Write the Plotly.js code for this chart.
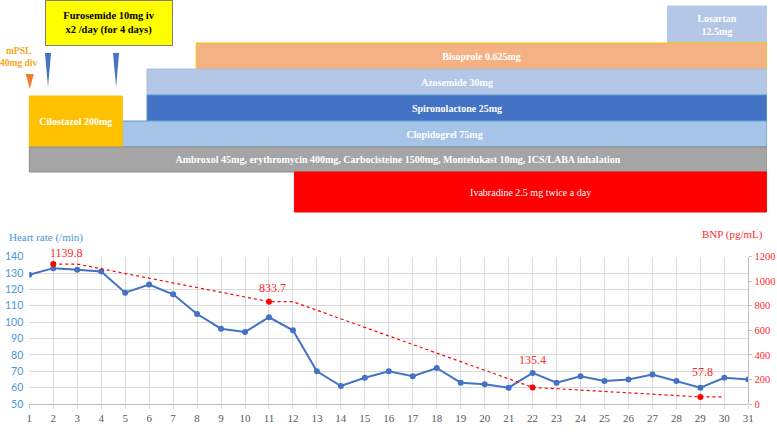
<!DOCTYPE html>
<html>
<head>
<meta charset="utf-8">
<script src="https://cdn.plot.ly/plotly-3.0.1.min.js"></script>
<style>
  body { margin: 0; background: #fff; }
  #graph { width: 777px; height: 436px; }
</style>
</head>
<body>
<div id="graph"></div>
<script>
// hospital stay (day) for heart rate
const days = [1, 2, 3, 4, 5, 6, 7, 8, 9, 10, 11, 12, 13, 14, 15, 16, 17, 18, 19, 20, 21, 22, 23, 24, 25, 26, 27, 28, 29, 30, 31]
const heartRate = [129, 133, 132, 131, 118, 123, 117, 105, 96, 94, 103, 95, 70, 61, 66, 70, 67, 72, 63, 62, 60, 69, 63, 67, 64, 65, 68, 64, 60, 66, 65]

// BNP measured points
const bnpDays = [2, 11, 22, 29]
const bnpValues = [1139.8, 833.7, 135.4, 57.8]
// dotted BNP line as drawn
const bnpLineDays = [2, 3, 11, 12, 22, 29, 30]
const bnpLineValues = [1139.8, 1139.8, 833.7, 833.7, 135.4, 57.8, 57.8]

// medications timeline
const drugs = ['Losartan<br>12.5mg', 'Bisoprole 0.625mg', 'Azosemide 30mg', 'Spironolactone 25mg', 'Clopidogrel 75mg',
    'Cilostazol 200mg', 'Ambroxol 45mg, erythromycin 400mg, Carbocisteine 1500mg, Montelukast 10mg, ICS/LABA inhalation',
    'Ivabradine 2.5 mg twice a day']
const startDay = [27.62, 7.96, 5.91, 5.91, 4.88, 1, 1, 12.06]
const endDay = [31.77, 31.77, 31.77, 31.77, 31.77, 4.88, 31.77, 31.77]
const furosemideDays = [1.78, 4.62]
const furosemideBoxDay = 4.33
const mpslDay = 1.02

// lane layout (pixel rows from the top of the figure)
const laneTop = [6, 43, 69, 95, 121, 96, 147, 172]
const laneBottom = [43, 69, 95, 121, 147, 147, 172, 212]
const drugColors = ['#B4C7E7', '#F4B183', '#B4C7E7', '#4472C4', '#A6C4E8', '#FFC000', '#A5A5A5', '#FF0000']
const drugLines = ['#B4C7E7', '#FFC000', '#A9BFE3', '#5B9BD5', '#5B9BD5', '#FFC000', '#8C8C8C', '#FF0000']
const drugBold = [true, true, true, true, true, true, true, false]

const serif = 'Liberation Serif'
const blue = '#4A96DA'
const red = '#FF2A2A'
const pxPerDay = 23.97
const left = 20
const plotW = 777 - left - 10
const xStart = (29.3 - left) / plotW
const xEnd = (748.3 - left) / plotW

const timeline = {
    type: 'bar',
    orientation: 'h',
    xaxis: 'x2',
    yaxis: 'y3',
    y: laneTop.map((t, i) => (t + laneBottom[i]) / 2),
    width: laneTop.map((t, i) => laneBottom[i] - t),
    base: startDay,
    x: startDay.map((s, i) => endDay[i] - s),
    text: drugs.map((d, i) => drugBold[i] ? '<b>' + d + '</b>' : d),
    textposition: 'inside',
    insidetextanchor: 'middle',
    constraintext: 'none',
    textangle: 0,
    textfont: { family: serif, size: 10, color: '#FFFFFF' },
    marker: { color: drugColors, line: { color: drugLines, width: 1 } },
    hoverinfo: 'skip',
    showlegend: false
}

const hr = {
    x: days,
    y: heartRate,
    mode: 'lines+markers',
    type: 'scatter',
    line: { color: '#4472C4', width: 2 },
    marker: { color: '#4472C4', size: 6 },
    showlegend: false
}

const bnpLine = {
    x: bnpLineDays,
    y: bnpLineValues,
    yaxis: 'y2',
    mode: 'lines',
    type: 'scatter',
    line: { color: '#FF0000', width: 1.2, dash: 'dot' },
    showlegend: false
}

const bnpPoints = {
    x: bnpDays,
    y: bnpValues,
    yaxis: 'y2',
    mode: 'markers',
    type: 'scatter',
    marker: { color: '#FF0000', size: 6 },
    showlegend: false
}

const labelShiftX = [13, 4, 0, 2]
const labelShiftY = [11, 14, 27, 25]
const annotations = bnpDays.map((d, i) => ({
    x: d, y: bnpValues[i], xref: 'x', yref: 'y2',
    text: bnpValues[i].toFixed(1), showarrow: false,
    xshift: labelShiftX[i], yshift: labelShiftY[i],
    font: { family: serif, size: 12, color: red }
}))

annotations.push(
    { xref: 'paper', x: xStart, xanchor: 'left', xshift: -22, yref: 'y3', y: 237, text: 'Heart rate (/min)',
      showarrow: false, font: { family: serif, size: 11, color: blue } },
    { xref: 'paper', x: 1, xanchor: 'right', xshift: -2, yref: 'y3', y: 234, text: 'BNP (pg/mL)',
      showarrow: false, font: { family: serif, size: 11, color: red } },
    { xref: 'paper', x: (378 - left) / plotW, yref: 'y3', y: 430, text: 'Hospital stay (day)',
      showarrow: false, font: { family: serif, size: 12, color: '#000000' } },
    { xref: 'x2', x: furosemideBoxDay, yref: 'y3', y: 23,
      text: '<b>Furosemide 10mg iv<br>x2 /day (for 4 days)</b>', showarrow: false,
      bgcolor: '#FFFF00', bordercolor: '#7F7F7F', borderwidth: 1, borderpad: 0,
      width: 126, height: 44, align: 'center',
      font: { family: serif, size: 10.5, color: '#000000' } },
    { xref: 'paper', x: 0, xanchor: 'center', xshift: -2, yref: 'y3', y: 57, text: '<b>mPSL<br>40mg div</b>',
      showarrow: false, font: { family: serif, size: 9.5, color: '#F5A623' } }
)

const triW = 3 / pxPerDay
const shapes = furosemideDays.map(d => ({
    type: 'path', xref: 'x2', yref: 'y3',
    path: `M ${d - triW},53 L ${d + triW},53 L ${d},87 Z`,
    fillcolor: '#4472C4', line: { width: 0 }
}))
shapes.push({
    type: 'path', xref: 'x2', yref: 'y3',
    path: `M ${mpslDay - 4 / pxPerDay},74 L ${mpslDay + 4 / pxPerDay},74 L ${mpslDay},89 Z`,
    fillcolor: '#ED7D31', line: { width: 0 }
})

const layout = {
    width: 777,
    height: 436,
    margin: { l: left, r: 10, t: 0, b: 32 },
    paper_bgcolor: '#FFFFFF',
    plot_bgcolor: 'rgba(0,0,0,0)',
    font: { family: serif },
    xaxis: {
        domain: [xStart, xEnd],
        range: [1, 31],
        dtick: 1,
        showgrid: true,
        gridcolor: '#D9D9D9',
        showline: true,
        linecolor: '#BFBFBF',
        ticks: 'outside',
        ticklen: 4,
        tickcolor: '#D9D9D9',
        zeroline: false,
        tickfont: { family: serif, size: 11, color: '#595959' },
        anchor: 'y'
    },
    yaxis: {
        domain: [0, 147.3 / 404],
        range: [50, 140],
        dtick: 10,
        gridcolor: '#D9D9D9',
        zeroline: false,
        showline: false,
        ticklabelstandoff: 5,
        tickfont: { family: 'Lato', size: 10.5, color: blue },
        anchor: 'x'
    },
    yaxis2: {
        overlaying: 'y',
        side: 'right',
        anchor: 'free',
        position: xEnd,
        range: [0, 1200],
        dtick: 200,
        showgrid: false,
        zeroline: false,
        showline: true,
        linecolor: '#BFBFBF',
        ticks: 'outside',
        ticklen: 3,
        tickcolor: '#BFBFBF',
        tickfont: { family: serif, size: 10.5, color: red }
    },
    xaxis2: {
        domain: [0, 1],
        range: [1 - (29.3 - left) / pxPerDay, 1 - (29.3 - left) / pxPerDay + plotW / pxPerDay],
        anchor: 'y3',
        visible: false,
        fixedrange: true
    },
    yaxis3: {
        domain: [0, 1],
        range: [404, 0],
        anchor: 'x2',
        visible: false,
        fixedrange: true
    },
    annotations: annotations,
    shapes: shapes
}

Plotly.newPlot('graph', [timeline, hr, bnpLine, bnpPoints], layout, { displayModeBar: false, staticPlot: true })
</script>
</body>
</html>
